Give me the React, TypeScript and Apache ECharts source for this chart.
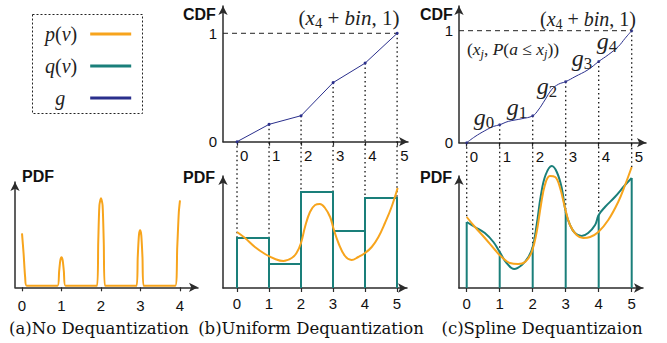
import React, { useEffect, useRef } from "react";
import * as echarts from "echarts";

const ORANGE = "#F7A41C";
const TEAL = "#1A7F7A";
const NAVY = "#2A2F8C";
const AXIS = "#2b2b2b";
const SANS = '"Liberation Sans", Arial, Helvetica, sans-serif';
const SERIF = '"Liberation Serif", "Times New Roman", serif';
const CAPSERIF = '"DejaVu Serif", "Liberation Serif", serif';

// ---- tick labels / categories ----
const quantTicks = [0, 1, 2, 3, 4];
const binTicks = [0, 1, 2, 3, 4, 5];
const cdfTicks = [0, 1];
const legendNames = ["p(v)", "q(v)", "g"];
const captions = ["(a)No Dequantization", "(b)Uniform Dequantization", "(c)Spline Dequantizaion"];

// ---- (a) spiky pdf of quantized data [x, density] ----
const pdfNoDequant = [
  [0, 54], [0.04, 34], [0.08, 10], [0.12, 1.5], [0.9, 1.5], [0.94, 16], [0.97, 27], [1.0, 30],
  [1.03, 27], [1.06, 16], [1.1, 1.5], [1.9, 1.5], [1.93, 45], [1.96, 82], [2.0, 89], [2.04, 82],
  [2.07, 45], [2.1, 1.5], [2.9, 1.5], [2.93, 30], [2.96, 52], [2.99, 57], [3.02, 52], [3.05, 30],
  [3.08, 1.5], [3.88, 1.5], [3.93, 40], [3.97, 75], [4.0, 87],
];

// ---- (b) uniform dequantization ----
const uniformBins = [50, 24, 96, 57, 90];
const cdfKnots = [0, 0.16, 0.24, 0.545, 0.725, 1];
const pdfTrueB = [
  [0, 56], [0.25, 50], [0.56, 41], [0.875, 34], [1.19, 29], [1.45, 27], [1.71, 30], [1.86, 35],
  [2.0, 45], [2.125, 61], [2.28, 76], [2.44, 83], [2.59, 84], [2.75, 80], [2.91, 71], [3.01, 60],
  [3.17, 45], [3.375, 32], [3.58, 28], [3.79, 31], [4.0, 35], [4.21, 41], [4.42, 51], [4.625, 65],
  [4.83, 81], [5.02, 100],
];

// ---- (c) spline dequantization ----
const splineCdf = [
  [0, 0], [0.25, 0.054], [0.55, 0.107], [0.81, 0.145], [1, 0.16], [1.26, 0.19], [1.67, 0.214],
  [2, 0.24], [2.17, 0.292], [2.37, 0.381], [2.58, 0.476], [2.78, 0.522], [3, 0.545], [3.28, 0.589],
  [3.68, 0.652], [4, 0.725], [4.29, 0.785], [4.59, 0.857], [4.8, 0.932], [5, 1],
];
const splinePdf = [
  [0, 66], [0.25, 61], [0.55, 55], [0.81, 46], [1.0, 36], [1.21, 25], [1.44, 19], [1.67, 23],
  [1.87, 31], [2.0, 41], [2.12, 63], [2.25, 93], [2.39, 113], [2.58, 122], [2.73, 116], [2.88, 100],
  [3.0, 76], [3.13, 63], [3.28, 55], [3.48, 52], [3.68, 55], [3.89, 63], [4.0, 73], [4.19, 81],
  [4.49, 91], [4.8, 103], [5.0, 110],
];
const pdfTrueC = [
  [0, 71], [0.25, 61], [0.55, 50], [0.86, 38], [1.06, 31], [1.31, 25], [1.56, 24], [1.77, 26],
  [1.97, 36], [2.12, 56], [2.25, 83], [2.37, 103], [2.52, 112], [2.68, 111], [2.83, 100], [2.98, 80],
  [3.13, 63], [3.33, 53], [3.53, 50], [3.74, 51], [3.99, 56], [4.29, 68], [4.59, 86], [4.8, 103],
  [5.0, 121],
];

const grids = [
  { left: 15, top: 182, width: 183, height: 105.3 },
  { left: 223, top: 6, width: 185, height: 135.7 },
  { left: 223, top: 176, width: 184, height: 112 },
  { left: 459, top: 6, width: 187, height: 136.7 },
  { left: 459, top: 176, width: 184, height: 112 },
];
const xRanges = [
  [-0.1772, 4.4557],
  [-0.4375, 5.3375],
  [-0.4375, 5.3125],
  [-0.2333, 5.4333],
  [-0.2333, 5.3424],
];
const yMax = [105.3, 1.2518, 112, 1.2205, 112];

const axisLine = {
  onZero: false,
  lineStyle: { color: AXIS, width: 1.5 },
  symbol: ["none", "arrow"],
  symbolSize: [7, 9],
};

function xAxis(i: number, ticks: number[], label: any) {
  return {
    type: "value",
    gridIndex: i,
    min: xRanges[i][0],
    max: xRanges[i][1],
    splitLine: { show: false },
    axisLine,
    axisTick: { show: true, customValues: ticks, length: 4, lineStyle: { color: AXIS, width: 1.2 } },
    axisLabel: {
      customValues: ticks,
      fontFamily: SANS,
      fontSize: 15,
      color: "#111",
      ...label,
    },
  };
}

function yAxis(i: number, labels: number[] | null) {
  return {
    type: "value",
    gridIndex: i,
    min: 0,
    max: yMax[i],
    splitLine: { show: false },
    axisLine,
    axisTick: { show: false },
    axisLabel: labels
      ? { customValues: labels, fontFamily: SANS, fontSize: 15, color: "#111", margin: 6 }
      : { show: false },
  };
}

const mathRich = (size: number) => ({
  i: { fontFamily: SERIF, fontStyle: "italic", fontSize: size, lineHeight: size * 1.2, fill: "#222" },
  r: { fontFamily: SERIF, fontSize: size, lineHeight: size * 1.2, fill: "#222" },
  s: { fontFamily: SERIF, fontSize: size * 0.7, lineHeight: size * 0.7, verticalAlign: "bottom", fill: "#222" },
  si: { fontFamily: SERIF, fontStyle: "italic", fontSize: size * 0.7, lineHeight: size * 0.7, verticalAlign: "bottom", fill: "#222" },
});

function mathText(x: number, y: number, text: string, size: number) {
  return {
    type: "text",
    x,
    y,
    z: 10,
    style: { text, rich: mathRich(size), align: "center", verticalAlign: "middle" },
  };
}

function plainText(x: number, y: number, text: string, font: string, align = "left") {
  return {
    type: "text",
    x,
    y,
    z: 10,
    style: { text, font, fill: "#111", align, verticalAlign: "middle" },
  };
}

export default function App() {
  const ref = useRef<HTMLDivElement>(null);

  useEffect(() => {
    if (!ref.current) return;
    const chart = echarts.init(ref.current, null, { renderer: "svg" });

    const staticGraphics: any[] = [
      {
        type: "rect",
        shape: { x: 32.5, y: 14.5, width: 110, height: 99 },
        style: { fill: "none", stroke: "#222", lineWidth: 1, lineDash: [2, 2] },
      },
      plainText(22, 176, "PDF", `bold 16px ${SANS}`),
      plainText(183, 177, "PDF", `bold 16px ${SANS}`),
      plainText(420, 177, "PDF", `bold 16px ${SANS}`),
      plainText(183, 14, "CDF", `bold 16px ${SANS}`),
      plainText(420, 14, "CDF", `bold 16px ${SANS}`),
      plainText(99, 328, captions[0], `16.5px ${CAPSERIF}`, "center"),
      plainText(311, 328, captions[1], `16.5px ${CAPSERIF}`, "center"),
      plainText(542, 328, captions[2], `16.5px ${CAPSERIF}`, "center"),
      mathText(349, 18, "{r|(}{i|x}{s|4}{r| + }{i|bin}{r|, 1)}", 21),
      mathText(588, 19, "{r|(}{i|x}{s|4}{r| + }{i|bin}{r|, 1)}", 20),
      mathText(513, 49, "{r|(}{i|x}{si|j}{r|, }{i|P}{r|(}{i|a}{r| ≤ }{i|x}{si|j}{r|))}", 17.5),
      mathText(484, 117, "{i|g}{s|0}", 24),
      mathText(517, 107, "{i|g}{s|1}", 24),
      mathText(547, 86, "{i|g}{s|2}", 24),
      mathText(582, 58, "{i|g}{s|3}", 24),
      mathText(607, 41, "{i|g}{s|4}", 24),
    ];

    const legendRich = {
      i: { fontFamily: SERIF, fontStyle: "italic", fontSize: 20, lineHeight: 20, color: "#222" },
      r: { fontFamily: SERIF, fontSize: 20, lineHeight: 20, color: "#222" },
    };

    const option: any = {
      animation: false,
      backgroundColor: "#fff",
      grid: grids.map((g) => ({ ...g, containLabel: false })),
      legend: {
        data: [
          { name: legendNames[0] },
          { name: legendNames[1] },
          { name: legendNames[2], textStyle: { padding: [0, 20, 0, 0] } },
        ],
        orient: "vertical",
        left: 45,
        top: 24,
        padding: 0,
        itemGap: 12,
        itemWidth: 41,
        itemHeight: 3,
        icon: "rect",
        align: "right",
        selectedMode: false,
        textStyle: { padding: [0, 8, 0, 0], rich: legendRich },
        formatter: (name: string) => {
          if (name === "p(v)") return "{i|p}{r|(}{i|v}{r|)}";
          if (name === "q(v)") return "{i|q}{r|(}{i|v}{r|)}";
          return "{i|g}";
        },
      },
      xAxis: [
        xAxis(0, quantTicks, { margin: 11 }),
        xAxis(1, binTicks, { margin: 6, align: "left", padding: [0, 0, 0, 3] }),
        xAxis(2, binTicks, { margin: 8 }),
        xAxis(3, binTicks, { margin: 6, align: "left", padding: [0, 0, 0, 3] }),
        xAxis(4, binTicks, { margin: 8 }),
      ],
      yAxis: [yAxis(0, null), yAxis(1, cdfTicks), yAxis(2, null), yAxis(3, cdfTicks), yAxis(4, null)],
      series: [
        {
          name: "p(v)",
          type: "line",
          xAxisIndex: 0,
          yAxisIndex: 0,
          data: pdfNoDequant,
          smooth: 0.25,
          showSymbol: false,
          lineStyle: { color: ORANGE, width: 2 },
          itemStyle: { color: ORANGE },
          z: 5,
        },
        {
          name: "g",
          type: "line",
          xAxisIndex: 1,
          yAxisIndex: 1,
          data: cdfKnots.map((v, i) => [binTicks[i], v]),
          symbol: "circle",
          symbolSize: 3,
          lineStyle: { color: NAVY, width: 1 },
          itemStyle: { color: NAVY },
          z: 5,
        },
        {
          name: "ref1",
          type: "line",
          xAxisIndex: 1,
          yAxisIndex: 1,
          data: [[xRanges[1][0], 1], [binTicks[binTicks.length - 1], 1]],
          showSymbol: false,
          lineStyle: { color: "#222", width: 1, type: [5, 4] },
          z: 3,
        },
        {
          name: "q(v)",
          type: "custom",
          xAxisIndex: 2,
          yAxisIndex: 2,
          data: uniformBins.map((h, i) => [binTicks[i], binTicks[i + 1], h]),
          encode: { x: [0, 1], y: 2 },
          itemStyle: { color: TEAL },
          renderItem: (_p: any, api: any) => {
            const a = api.coord([api.value(0), 0]);
            const b = api.coord([api.value(1), api.value(2)]);
            return {
              type: "polyline",
              shape: { points: [[a[0], a[1]], [a[0], b[1]], [b[0], b[1]], [b[0], a[1]]] },
              style: { stroke: TEAL, fill: "none", lineWidth: 2 },
            };
          },
          z: 4,
        },
        {
          name: "p(v)",
          type: "line",
          xAxisIndex: 2,
          yAxisIndex: 2,
          data: pdfTrueB,
          smooth: 0.4,
          showSymbol: false,
          lineStyle: { color: ORANGE, width: 2 },
          itemStyle: { color: ORANGE },
          clip: false,
          z: 6,
        },
        {
          name: "g",
          type: "line",
          xAxisIndex: 3,
          yAxisIndex: 3,
          data: splineCdf,
          smooth: 0.4,
          showSymbol: false,
          lineStyle: { color: NAVY, width: 1 },
          itemStyle: { color: NAVY },
          z: 5,
        },
        {
          name: "g",
          type: "scatter",
          xAxisIndex: 3,
          yAxisIndex: 3,
          data: cdfKnots.map((v, i) => [binTicks[i], v]),
          symbolSize: 3,
          itemStyle: { color: NAVY },
          z: 6,
        },
        {
          name: "ref2",
          type: "line",
          xAxisIndex: 3,
          yAxisIndex: 3,
          data: [[xRanges[3][0], 1], [binTicks[binTicks.length - 1], 1]],
          showSymbol: false,
          lineStyle: { color: "#222", width: 1, type: [5, 4] },
          z: 3,
        },
        {
          name: "q(v)",
          type: "custom",
          xAxisIndex: 4,
          yAxisIndex: 4,
          data: splinePdf.filter((p) => Number.isInteger(p[0])),
          itemStyle: { color: TEAL },
          renderItem: (_p: any, api: any) => {
            const a = api.coord([api.value(0), 0]);
            const b = api.coord([api.value(0), api.value(1)]);
            return {
              type: "line",
              shape: { x1: a[0], y1: a[1], x2: b[0], y2: b[1] },
              style: { stroke: TEAL, lineWidth: 2 },
            };
          },
          z: 4,
        },
        {
          name: "q(v)",
          type: "line",
          xAxisIndex: 4,
          yAxisIndex: 4,
          data: splinePdf,
          smooth: 0.4,
          showSymbol: false,
          lineStyle: { color: TEAL, width: 2 },
          itemStyle: { color: TEAL },
          clip: false,
          z: 5,
        },
        {
          name: "p(v)",
          type: "line",
          xAxisIndex: 4,
          yAxisIndex: 4,
          data: pdfTrueC,
          smooth: 0.4,
          showSymbol: false,
          lineStyle: { color: ORANGE, width: 2 },
          itemStyle: { color: ORANGE },
          clip: false,
          z: 6,
        },
      ],
      graphic: { elements: staticGraphics },
    };

    chart.setOption(option);

    // dotted connectors from CDF knots down into the PDF panels
    const conns: any[] = [];
    const dotted = { stroke: "#111", lineWidth: 1.3, lineDash: [1.5, 3] };
    binTicks.forEach((x, i) => {
      const top = chart.convertToPixel({ gridIndex: 1 }, [x, cdfKnots[i]]) as number[];
      const endB = Math.max(uniformBins[i - 1] ?? 0, uniformBins[i] ?? 0);
      const bot = chart.convertToPixel({ gridIndex: 2 }, [x, endB]) as number[];
      conns.push({ type: "line", z: 1, shape: { x1: top[0], y1: top[1], x2: bot[0], y2: bot[1] }, style: dotted });

      const topC = chart.convertToPixel({ gridIndex: 3 }, [x, cdfKnots[i]]) as number[];
      const q = splinePdf.find((p) => p[0] === x);
      const pv = pdfTrueC.find((p) => p[0] === x);
      const endC = Math.max(q ? q[1] : 0, pv ? pv[1] : 0);
      const botC = chart.convertToPixel({ gridIndex: 4 }, [x, endC]) as number[];
      conns.push({ type: "line", z: 1, shape: { x1: topC[0], y1: topC[1], x2: botC[0], y2: botC[1] }, style: dotted });
    });

    chart.setOption({ graphic: { elements: [...staticGraphics, ...conns] } });

    return () => chart.dispose();
  }, []);

  return <div ref={ref} style={{ position: "fixed", left: 0, top: 0, width: 667, height: 343 }} />;
}
